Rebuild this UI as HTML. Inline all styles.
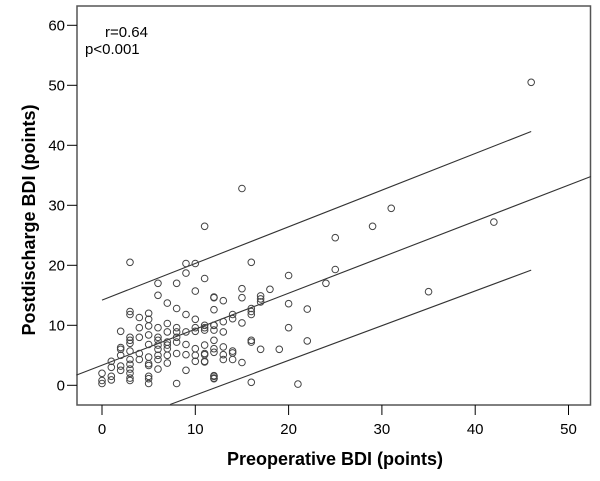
<!DOCTYPE html>
<html><head><meta charset="utf-8"><style>
html,body{margin:0;padding:0;background:#fff;}
svg{display:block;font-family:"Liberation Sans",Arial,sans-serif;}
</style></head><body>
<svg id="chart" width="600" height="481" viewBox="0 0 600 481">
<rect x="77" y="6" width="513.5" height="399" fill="#fff" stroke="#555" stroke-width="1.5"/>
<g id="ticks"></g>
<g id="lines"></g>
<g id="pts"></g>
<text x="105" y="37" font-size="15" fill="#000">r=0.64</text>
<text x="85" y="54" font-size="15" fill="#000">p&lt;0.001</text>
<text x="335" y="465" font-size="18" font-weight="bold" text-anchor="middle">Preoperative BDI (points)</text>
<text transform="translate(35,220) rotate(-90)" font-size="18" font-weight="bold" text-anchor="middle">Postdischarge BDI (points)</text>
</svg>
<script>
const xTicks=[0,10,20,30,40,50];
const yTicks=[0,10,20,30,40,50,60];
const px=[
0,0,0,
1,1,1,1,
2,2,2,2,2,2,
3,3,3,3,3,3,3,3,3,3,3,3,3,
4,4,4,4,4,
5,5,5,5,5,5,5,5,5,5,5,
6,6,6,6,6,6,6,6,6,6,
7,7,7,7,7,7,7,7,
8,8,8,8,8,8,8,8,
9,9,9,9,9,9,9,
10,10,10,10,10,10,10,10,
11,11,11,11,11,11,11,11,11,11,
12,12,12,12,12,12,12,12,12,12,12,12,12,
13,13,13,13,13,13,
14,14,14,14,14,
15,15,15,15,15,
16,16,16,16,16,16,16,
17,17,17,17,
18,19,20,20,20,21,22,22,24,25,25,29,31,35,42,46];
const py=[
2,0.8,0.3,
4,3,1.5,0.9,
9,6.3,6,5,3.2,2.5,
12.3,11.8,8,7.5,7,5.7,4.3,3.5,2.7,2,1.2,0.8,20.5,
11.3,9.6,8,5.3,4.3,
12,11,9.9,8.4,6.8,4.7,3.6,3.3,1.5,1.1,0.3,
15,9.6,8,7.5,6.7,6,5,4.3,2.7,17,
13.7,10.3,8.9,7.2,6.7,6.1,5,3.7,
12.8,9.6,8.9,8,7.2,5.3,0.3,17,
18.7,20.3,11.8,8.9,6.8,5.1,2.5,
20.3,15.7,11,9.6,9,6.1,5,4,
17.8,9.6,6.7,5.3,4,26.5,10,9.2,5.1,3.9,
14.7,10,7.5,1.5,1.2,14.6,12.6,10,9.2,6.1,5.5,1.6,1.1,
14.1,10.6,8.9,6.4,5.1,4.3,
11.8,11.1,5.7,5.4,4.3,
32.8,16.1,14.6,10.4,3.8,
20.5,12.8,12.3,11.8,7.5,7.2,0.5,
14.9,14.4,13.9,6,
16,6,18.3,13.6,9.6,0.2,12.7,7.4,17,24.6,19.3,26.5,29.5,15.6,27.2,50.5];
const fitLine=[[-2.75,1.7],[52.4,34.8]];
const upperLine=[[0,14.2],[46,42.3]];
const lowerLine=[[7.3,-3.2],[46,19.2]];
const X=v=>102+v*9.33, Y=v=>385.3-v*6.0;
const NS='http://www.w3.org/2000/svg';
const tg=document.getElementById('ticks');
xTicks.forEach(t=>{
 const l=document.createElementNS(NS,'line');
 l.setAttribute('x1',X(t));l.setAttribute('x2',X(t));l.setAttribute('y1',405);l.setAttribute('y2',415);l.setAttribute('stroke','#000');
 
 
 tg.appendChild(l);
 const s=document.createElementNS(NS,'text');
 s.setAttribute('x',X(t));s.setAttribute('y',434);s.setAttribute('font-size','15');s.setAttribute('text-anchor','middle');s.textContent=t;
 
 
 tg.appendChild(s);
});
yTicks.forEach(t=>{
 const l=document.createElementNS(NS,'line');
 l.setAttribute('x1',67);l.setAttribute('x2',77);l.setAttribute('y1',Y(t));l.setAttribute('y2',Y(t));l.setAttribute('stroke','#000');
 
 
 tg.appendChild(l);
 const s=document.createElementNS(NS,'text');
 s.setAttribute('x',65);s.setAttribute('y',Y(t)+5);s.setAttribute('font-size','15');s.setAttribute('text-anchor','end');s.textContent=t;
 
 
 tg.appendChild(s);
});
const lg=document.getElementById('lines');
[[fitLine,'fit-line'],[upperLine,'upper-prediction-line'],[lowerLine,'lower-prediction-line']].forEach(([d,n])=>{
 const l=document.createElementNS(NS,'line');
 l.setAttribute('x1',X(d[0][0]));l.setAttribute('y1',Y(d[0][1]));l.setAttribute('x2',X(d[1][0]));l.setAttribute('y2',Y(d[1][1]));
 l.setAttribute('stroke','#333');l.setAttribute('stroke-width','1.1');
 
 
 lg.appendChild(l);
});
const pg=document.getElementById('pts');
px.forEach((v,i)=>{
 const c=document.createElementNS(NS,'circle');
 c.setAttribute('cx',X(v));c.setAttribute('cy',Y(py[i]));c.setAttribute('r',3.3);
 c.setAttribute('fill','none');c.setAttribute('stroke','#444');c.setAttribute('stroke-width','1');
 
 
 pg.appendChild(c);
});
</script>
</body></html>
